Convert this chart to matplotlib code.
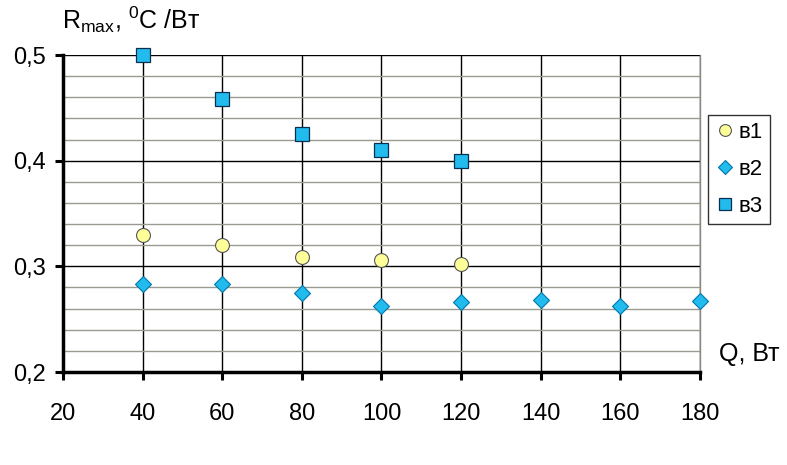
import matplotlib
matplotlib.use("Agg")
import matplotlib.pyplot as plt
from matplotlib.ticker import MultipleLocator

plt.rcParams['font.family'] = ['Liberation Sans', 'DejaVu Sans']
plt.rcParams['mathtext.fontset'] = 'custom'
plt.rcParams['mathtext.rm'] = 'Liberation Sans'

x1 = [40, 60, 80, 100, 120]
v1 = [0.330, 0.320, 0.309, 0.306, 0.302]
x2 = [40, 60, 80, 100, 120, 140, 160, 180]
v2 = [0.283, 0.283, 0.275, 0.262, 0.266, 0.268, 0.262, 0.267]
x3 = [40, 60, 80, 100, 120]
v3 = [0.500, 0.458, 0.425, 0.410, 0.400]
labels = ['в1', 'в2', 'в3']
xticks = [20, 40, 60, 80, 100, 120, 140, 160, 180]
yticks = [0.2, 0.3, 0.4, 0.5]

fig = plt.figure(figsize=(7.87, 4.65), dpi=100)
ax = fig.add_axes([0.080, 0.2, 0.8095, 0.6817])
ax.set_xlim(20, 180)
ax.set_ylim(0.2, 0.5)

# minor grid
ax.yaxis.set_minor_locator(MultipleLocator(0.02))
ax.grid(True, which='minor', axis='y', color='#9a9a90', lw=1.0, zorder=0)
ax.grid(True, which='major', axis='y', color='black', lw=1.0, zorder=0)
ax.grid(True, which='major', axis='x', color='black', lw=1.0, zorder=0)
ax.tick_params(which='minor', length=0)

ax.set_xticks(xticks)
ax.set_xticklabels([str(t) for t in xticks])
ax.set_yticks(yticks)
ax.set_yticklabels([('%.1f' % t).replace('.', ',') for t in yticks])
ax.tick_params(axis='both', which='major', labelsize=17, width=2.2, length=6, direction='out')
ax.tick_params(axis='x', pad=16)
ax.tick_params(axis='y', pad=6)

for s in ['left', 'bottom']:
    ax.spines[s].set_linewidth(2.5)
ax.spines['top'].set_visible(False)
ax.spines['right'].set_color('#8a8a80')
ax.spines['right'].set_linewidth(1.0)
ax.spines['right'].set_linestyle((0, (1, 1)))

ax.plot(x1, v1, linestyle='none', marker='o', markersize=10, markerfacecolor='#FFFF99',
        markeredgecolor='#555555', markeredgewidth=0.8, label=labels[0], clip_on=False, zorder=5)
ax.plot(x2, v2, linestyle='none', marker='D', markersize=8.5, markerfacecolor='#22BBEE',
        markeredgecolor='#0077AA', markeredgewidth=0.8, label=labels[1], clip_on=False, zorder=5)
ax.plot(x3, v3, linestyle='none', marker='s', markersize=10, markerfacecolor='#22BBEE',
        markeredgecolor='#0A3050', markeredgewidth=0.9, label=labels[2], clip_on=False, zorder=5)

leg = ax.legend(loc='upper left', bbox_to_anchor=(1.012, 0.81), fontsize=16, frameon=True,
                fancybox=False, edgecolor='black', handletextpad=0.1, handlelength=1.0,
                borderpad=0.3, labelspacing=0.72, borderaxespad=0, markerscale=0.85)
leg.get_frame().set_linewidth(1.0)

fig.text(0.079, 0.925, r'R$_{\mathrm{max}}$, $^{\mathrm{0}}$C /Вт', fontsize=18, ha='left', va='bottom')
fig.text(0.913, 0.212, 'Q, Вт', fontsize=18, ha='left', va='bottom')

fig.savefig('out.png', dpi=100)
